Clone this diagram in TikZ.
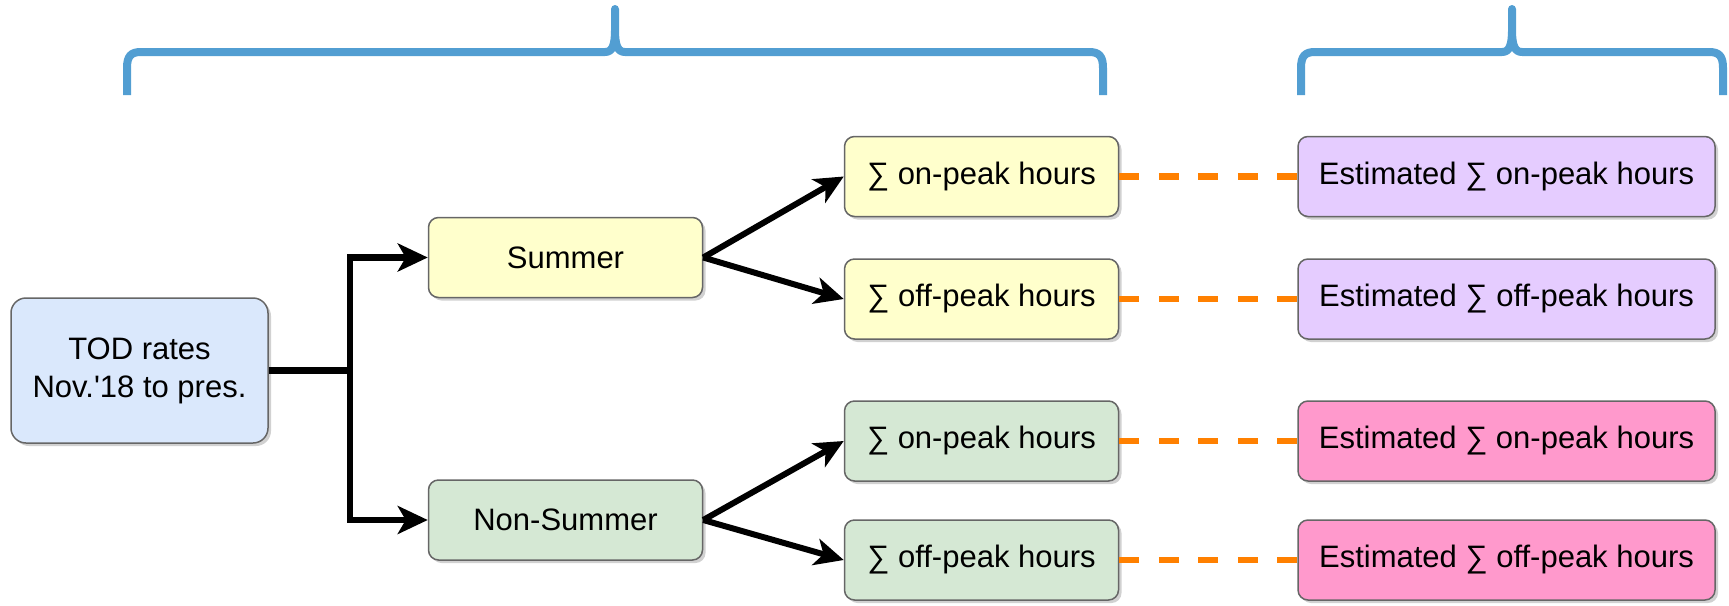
\documentclass[tikz,border=0pt]{standalone}
\usepackage{fontspec}
\setmainfont{Liberation Sans}
\usetikzlibrary{arrows.meta,shadows}

\definecolor{boxline}{HTML}{666666}
\definecolor{todfill}{HTML}{DAE8FC}
\definecolor{sumfill}{HTML}{FFFFCC}
\definecolor{winfill}{HTML}{D5E8D4}
\definecolor{lilac}{HTML}{E5CCFF}
\definecolor{pink}{HTML}{FF99CC}
\definecolor{bracecol}{HTML}{529ED2}
\definecolor{dashcol}{HTML}{FF8000}

\tikzset{
  box/.style={draw=boxline, line width=1.5pt, rounded corners=10pt,
    inner sep=0pt, align=center, text=black,
    font=\fontsize{31}{38}\selectfont,
    drop shadow={shadow xshift=3pt, shadow yshift=-3pt, fill=black, opacity=0.18}},
  smallbox/.style={box, minimum width=274pt, minimum height=80pt},
  estbox/.style={box, minimum width=417pt, minimum height=80pt},
  flow/.style={line width=6.5pt, -{Stealth[length=30pt, width=28pt, inset=8pt]}},
  split/.style={line width=6pt, -{Stealth[length=29pt, width=27pt, inset=8pt]}},
  estlink/.style={draw=dashcol, line width=6.5pt, dash pattern=on 20pt off 19.5pt},
  bracket/.style={draw=bracecol, line width=8pt, line join=round},
}

\begin{document}
\begin{tikzpicture}[x=1pt, y=-1pt]
  \useasboundingbox (0,0) rectangle (1729,605);

  % source node
  \node[box, rounded corners=15pt, fill=todfill, minimum width=257pt, minimum height=145pt]
    (tod) at (139.5,370.5) {TOD rates\\Nov.\textquotesingle 18 to pres.};

  % seasons
  \node[smallbox, fill=sumfill] (summer) at (565.5,257.5) {Summer};
  \node[smallbox, fill=winfill] (nonsummer) at (565.5,520) {Non-Summer};

  % hour sums
  \node[smallbox, fill=sumfill] (son)  at (981.5,176.5) {∑ on-peak hours};
  \node[smallbox, fill=sumfill] (soff) at (981.5,299)   {∑ off-peak hours};
  \node[smallbox, fill=winfill] (won)  at (981.5,441)   {∑ on-peak hours};
  \node[smallbox, fill=winfill] (woff) at (981.5,560)   {∑ off-peak hours};

  % estimated sums
  \node[estbox, fill=lilac] (eson)  at (1506.5,176.5) {Estimated ∑ on-peak hours};
  \node[estbox, fill=lilac] (esoff) at (1506.5,299)   {Estimated ∑ off-peak hours};
  \node[estbox, fill=pink]  (ewon)  at (1506.5,441)   {Estimated ∑ on-peak hours};
  \node[estbox, fill=pink]  (ewoff) at (1506.5,560)   {Estimated ∑ off-peak hours};

  % season split
  \coordinate (jn) at (350,370.5);
  \draw[line width=6.5pt] (tod.east) -- (jn);
  \draw[flow] (jn) |- (summer.west);
  \draw[flow] (jn) |- (nonsummer.west);

  % on/off-peak split
  \draw[split] (summer.east) -- (son.west);
  \draw[split] (summer.east) -- (soff.west);
  \draw[split] (nonsummer.east) -- (won.west);
  \draw[split] (nonsummer.east) -- (woff.west);

  % links to estimates
  \draw[estlink] (son.east)  -- (eson.west);
  \draw[estlink] (soff.east) -- (esoff.west);
  \draw[estlink] (won.east)  -- (ewon.west);
  \draw[estlink] (woff.east) -- (ewoff.west);

  % braces over the two column groups
  \foreach \xa/\xt/\xb in {127/615/1103, 1301/1512/1723} {
    \draw[bracket]
      (\xa,95) -- (\xa,68) .. controls (\xa,56) and (\xa+4,52) .. (\xa+14,52)
      -- (\xt-10,52) .. controls (\xt-3,52) and (\xt,46) .. (\xt,30)
      -- (\xt,9) -- (\xt,30)
      .. controls (\xt,46) and (\xt+3,52) .. (\xt+10,52)
      -- (\xb-14,52) .. controls (\xb-4,52) and (\xb,56) .. (\xb,68) -- (\xb,95);
  }
\end{tikzpicture}
\end{document}
